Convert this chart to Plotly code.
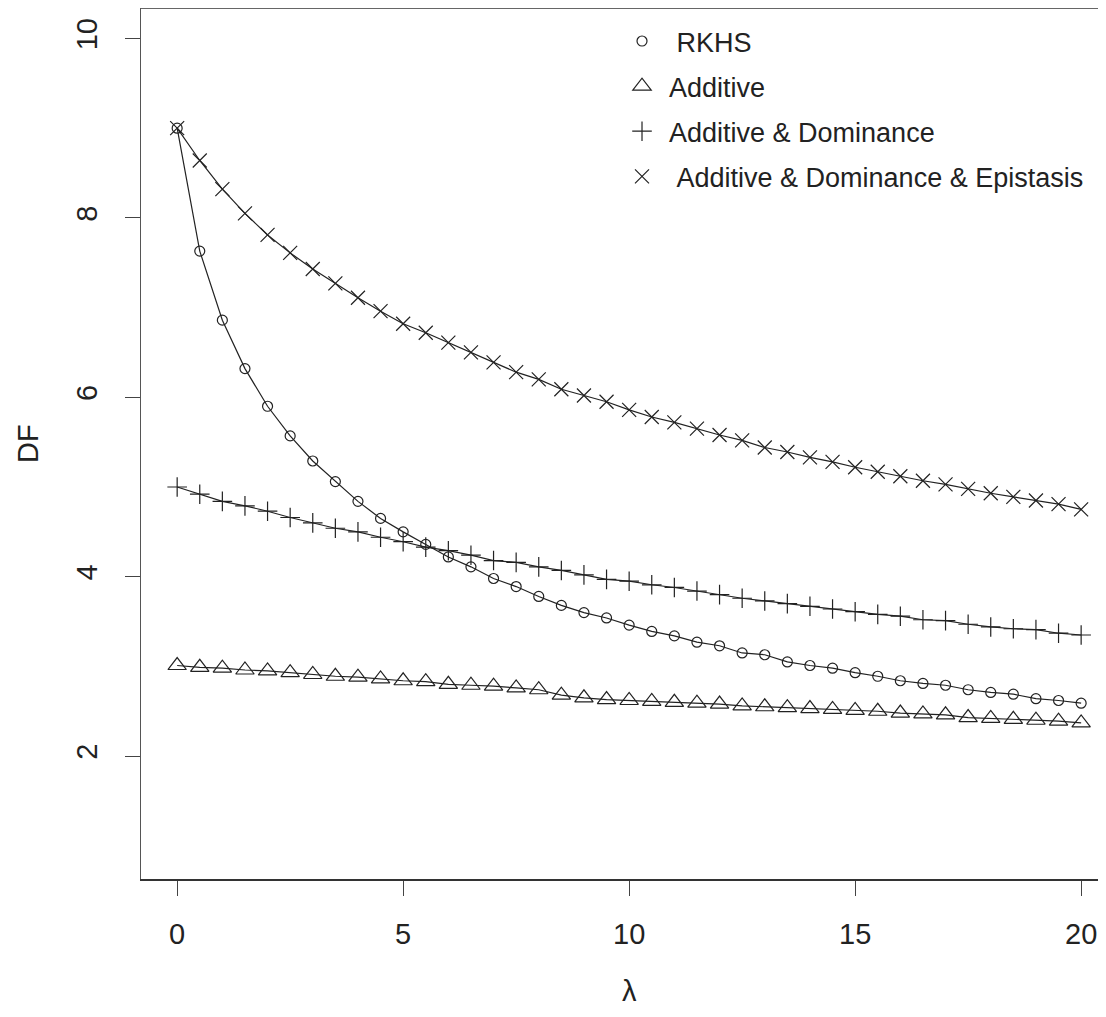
import plotly.graph_objects as go

lam = [i * 0.5 for i in range(41)]

rkhs = [9.00, 7.63, 6.86, 6.32, 5.90, 5.57, 5.29, 5.06, 4.84, 4.65,
        4.50, 4.36, 4.22, 4.11, 3.98, 3.89, 3.78, 3.68, 3.60, 3.54,
        3.46, 3.39, 3.34, 3.27, 3.23, 3.15, 3.13, 3.05, 3.01, 2.98,
        2.93, 2.89, 2.84, 2.81, 2.79, 2.74, 2.71, 2.69, 2.64, 2.62, 2.59]

additive = [3.01, 2.99, 2.98, 2.96, 2.95, 2.93, 2.91, 2.89, 2.88, 2.86,
            2.84, 2.83, 2.80, 2.79, 2.78, 2.76, 2.74, 2.68, 2.65, 2.63,
            2.62, 2.61, 2.60, 2.59, 2.58, 2.56, 2.55, 2.54, 2.53, 2.52,
            2.51, 2.50, 2.48, 2.47, 2.46, 2.43, 2.42, 2.41, 2.40, 2.39, 2.37]

add_dom = [5.00, 4.92, 4.84, 4.79, 4.73, 4.66, 4.60, 4.54, 4.50, 4.44,
           4.39, 4.33, 4.29, 4.24, 4.18, 4.16, 4.11, 4.07, 4.02, 3.97,
           3.95, 3.91, 3.88, 3.84, 3.80, 3.76, 3.73, 3.70, 3.67, 3.64,
           3.61, 3.58, 3.56, 3.52, 3.51, 3.47, 3.44, 3.42, 3.41, 3.37, 3.35]

add_dom_epi = [9.00, 8.64, 8.32, 8.05, 7.81, 7.61, 7.43, 7.27, 7.11, 6.96,
               6.82, 6.72, 6.61, 6.50, 6.39, 6.28, 6.20, 6.09, 6.02, 5.95,
               5.86, 5.78, 5.72, 5.65, 5.58, 5.52, 5.44, 5.39, 5.33, 5.28,
               5.22, 5.17, 5.12, 5.07, 5.03, 4.98, 4.93, 4.89, 4.85, 4.81, 4.75]

names = ["\u00a0RKHS", "Additive", "Additive & Dominance",
         "\u00a0Additive & Dominance & Epistasis"]
series = [rkhs, additive, add_dom, add_dom_epi]
symbols = ["circle-open", "triangle-up-open", "cross-thin-open", "x-thin-open"]
sizes = [10, 16, 14, 14]

INK = "#222222"
FONT = "Liberation Sans, Arial, sans-serif"

fig = go.Figure()
for ys, sym, sz in zip(series, symbols, sizes):
    fig.add_trace(go.Scatter(
        x=lam, y=ys, mode="lines+markers", showlegend=False,
        line=dict(color=INK, width=1.2),
        marker=dict(symbol=sym, size=sz, color=INK,
                    line=dict(color=INK, width=1.2)),
    ))

# legend entries (symbol only, like R's legend)
for i, (nm, sym, sz) in enumerate(zip(names, symbols, sizes)):
    fig.add_trace(go.Scatter(
        x=[None], y=[None], mode="markers", name=nm, legendgroup=str(i),
        marker=dict(symbol=sym, size=sz, color=INK,
                    line=dict(color=INK, width=1.2)),
    ))

fig.update_xaxes(
    range=[-0.8, 20.55], tickvals=[0, 5, 10, 15, 20],
    ticks="outside", ticklen=15, tickwidth=1, tickcolor="#444",
    showline=True, linecolor="#333", linewidth=1.6,
    showgrid=False, zeroline=False,
    tickfont=dict(size=29, family=FONT, color=INK),
    ticklabelstandoff=13,
)
fig.update_yaxes(
    range=[0.63, 10.34], tickvals=[2, 4, 6, 8, 10],
    ticks="outside", ticklen=15, tickwidth=1, tickcolor="#444",
    showline=True, linecolor="#555", linewidth=1.3,
    showgrid=False, zeroline=False, tickangle=-90,
    tickfont=dict(size=29, family=FONT, color=INK),
    ticklabelstandoff=16,
)

fig.add_shape(type="line", xref="paper", yref="paper", x0=0, x1=1, y0=1, y1=1,
              line=dict(color="#333", width=1.6))

fig.add_annotation(text="DF", xref="paper", yref="paper", x=-0.1176, y=0.5,
                   xanchor="center", yanchor="middle", textangle=-90,
                   showarrow=False, font=dict(size=29, family=FONT, color=INK))
fig.add_annotation(text="λ", xref="x", yref="paper", x=10, y=-0.1286,
                   xanchor="center", yanchor="middle",
                   showarrow=False, font=dict(size=29, family=FONT, color=INK))

fig.update_layout(
    width=1098, height=1001,
    margin=dict(l=133, r=0, t=0, b=130),
    paper_bgcolor="white", plot_bgcolor="white",
    legend=dict(x=0.4912, y=0.9897, xanchor="left", yanchor="top",
                bgcolor="rgba(0,0,0,0)", borderwidth=0,
                font=dict(size=27, family=FONT, color=INK),
                itemwidth=44, tracegroupgap=7),
)

fig.write_html("out.html")
